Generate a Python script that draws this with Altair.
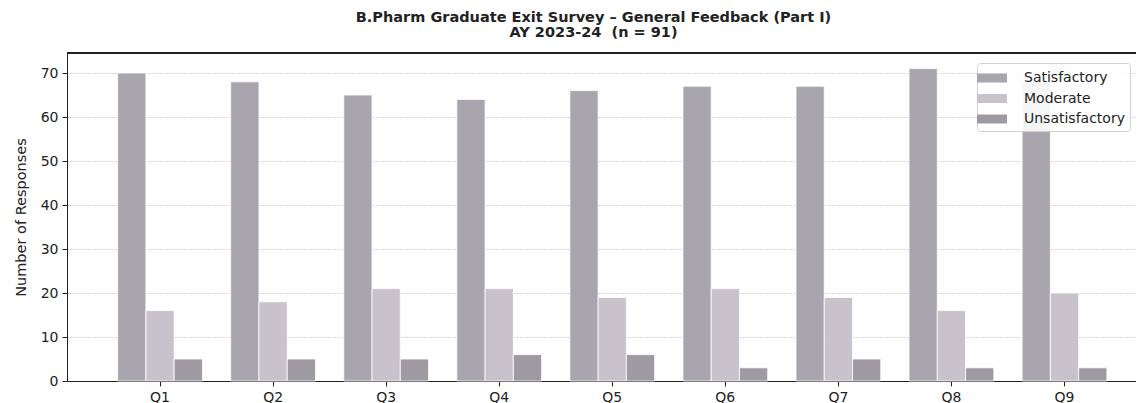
import altair as alt
import pandas as pd

questions = ["Q1", "Q2", "Q3", "Q4", "Q5", "Q6", "Q7", "Q8", "Q9"]
categories = ["Satisfactory", "Moderate", "Unsatisfactory"]
satisfactory = [70, 68, 65, 64, 66, 67, 67, 71, 68]
moderate = [16, 18, 21, 21, 19, 21, 19, 16, 20]
unsatisfactory = [5, 5, 5, 6, 6, 3, 5, 3, 3]
colors = ["#a9a5ae", "#c7c2cc", "#9f9aa2"]
y_ticks = [0, 10, 20, 30, 40, 50, 60, 70]
title_lines = ["B.Pharm Graduate Exit Survey \u2013 General Feedback (Part I)",
               "AY 2023-24\u00a0 (n = 91)"]

series = {"Satisfactory": satisfactory, "Moderate": moderate, "Unsatisfactory": unsatisfactory}
rows = []
for cat in categories:
    for q, v in zip(questions, series[cat]):
        rows.append({"Question": q, "Response": cat, "Count": v})
df = pd.DataFrame(rows)

W = 1069
H = 328
FONT = "DejaVu Sans"
INK = "#222222"

bars = alt.Chart(df).mark_bar(stroke="white", strokeWidth=0.8).encode(
    x=alt.X("Question:N", sort=questions,
            scale=alt.Scale(paddingInner=0.25, paddingOuter=0.3527, align=0.635),
            axis=alt.Axis(title=None, labelAngle=0, tickSize=5, labelPadding=4,
                          grid=False, labelFontSize=14, labelFont=FONT,
                          labelColor=INK, tickColor=INK, domainColor=INK)),
    xOffset=alt.XOffset("Response:N", sort=categories,
                        scale=alt.Scale(paddingInner=0, paddingOuter=0)),
    y=alt.Y("Count:Q",
            scale=alt.Scale(domain=[0, 74.55], nice=False, zero=True),
            axis=alt.Axis(title="Number of Responses", values=y_ticks,
                          tickSize=5, labelPadding=4, labelFontSize=14,
                          labelFont=FONT, labelColor=INK, tickColor=INK,
                          domainColor=INK, titleFont=FONT, titleFontSize=14.5,
                          titleFontWeight="normal", titleColor=INK,
                          titleBaseline="alphabetic", titleX=-42, titleY=H / 2,
                          grid=True, gridColor="#9a9a9a", gridDash=[1, 2],
                          gridOpacity=0.8)),
    color=alt.Color("Response:N", sort=categories,
                    scale=alt.Scale(domain=categories, range=colors),
                    legend=alt.Legend(title=None, orient="none", legendX=910, legendY=10,
                                      symbolType="M-1.5,-0.45H1.5V0.45H-1.5Z", symbolSize=400,
                                      symbolStrokeWidth=0, labelFontSize=14,
                                      labelFont=FONT, labelColor=INK, labelOffset=22,
                                      rowPadding=3.5, padding=5, fillColor="rgba(255,255,255,0.9)",
                                      strokeColor="#d0d0d0", cornerRadius=3)),
)

top_spine = alt.Chart(df).mark_rule(color=INK, strokeWidth=1).encode(
    x=alt.value(0), x2=alt.value(W), y=alt.value(0)
)

chart = alt.layer(bars, top_spine).properties(
    width=W,
    height=H,
    autosize=alt.AutoSizeParams(type="none"),
    padding={"left": 59, "top": 45, "right": 0, "bottom": 22},
    title=alt.TitleParams(text=title_lines, font=FONT, fontSize=14.5, fontWeight="bold",
                          color=INK, anchor="middle", dx=-8, offset=12, lineHeight=15),
).configure_view(stroke=None)

chart.save("out.html", embed_options={"renderer": "svg", "actions": False})
